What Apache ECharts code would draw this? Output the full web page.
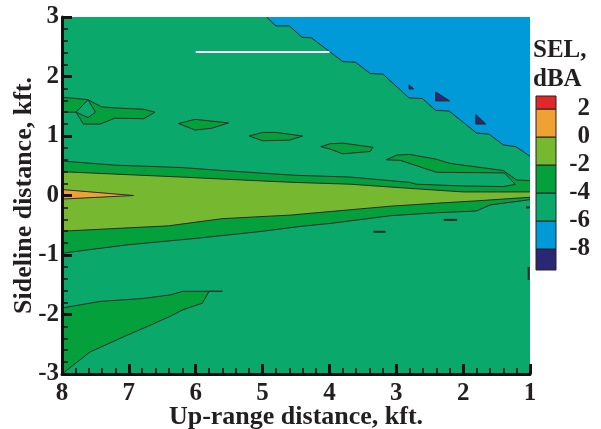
<!DOCTYPE html>
<html><head><meta charset="utf-8">
<script src="https://cdn.jsdelivr.net/npm/echarts@6/dist/echarts.min.js"></script>
<style>html,body{margin:0;padding:0;background:#fff}#c{width:601px;height:429px}</style>
</head><body><div id="c"></div>
<script>
// Axes ranges (kft)
const xRange = [1, 8];      // up-range distance (drawn reversed)
const yRange = [-3, 3];     // sideline distance
// Colour levels (SEL, dBA)
const levelBounds = [-8, -6, -4, -2, 0, 2];
const levelColors = ['#2a2875', '#009ad9', '#0aa86b', '#03a03c', '#76b830', '#f0a133', '#e0282a'];
const colorbarEnds = [-9.5, 2.93];

// Contour regions: [up-range kft, sideline kft] vertices, with band value
const fieldPts = [[8, -3], [1, -3], [1, 3], [8, 3]];                        // -6..-4
const blueZone = [[4.94, 3], [4.8, 2.85], [4.6, 2.85], [4.41, 2.66], [4.27, 2.65], [3.8, 2.25], [3.61, 2.24],
  [3.39, 2.05], [3.2, 2.04], [2.81, 1.64], [2.61, 1.63], [2.41, 1.43], [2.21, 1.42], [1.8, 1.05], [1.61, 1.03],
  [1.4, 0.85], [1.21, 0.82], [1.0, 0.66], [1, 3]];                          // -8..-6
const navySpot1 = [[2.81, 1.86], [2.81, 1.79], [2.74, 1.79]];             // < -8
const navySpot2 = [[2.41, 1.74], [2.41, 1.59], [2.20, 1.59]];
const navySpot3 = [[1.81, 1.36], [1.81, 1.20], [1.66, 1.20]];
const centerBand = [[8, 0.58], [7.21, 0.51], [6.21, 0.47], [5.61, 0.42], [4.52, 0.34], [3.69, 0.31], [2.80, 0.22],
  [2.70, 0.19], [2.00, 0.16], [1.40, 0.15], [1.22, 0.185],
  [1.37, 0.37], [1.40, 0.38], [2.40, 0.39], [2.94, 0.59], [3.15, 0.60],
  [2.99, 0.68], [2.80, 0.69], [2.40, 0.61], [2.20, 0.54], [1.80, 0.48], [1.40, 0.42], [1.20, 0.26], [1.00, 0.25],
  [1.00, -0.07], [1.60, -0.16], [1.80, -0.26], [2.40, -0.29], [3.09, -0.34], [3.99, -0.47], [4.44, -0.52],
  [4.99, -0.60], [5.99, -0.72], [7.03, -0.83], [8, -0.97]];                 // -4..-2
const coreBand = [[8, 0.40], [7.41, 0.37], [6.21, 0.31], [5.11, 0.25], [4.52, 0.22], [3.69, 0.19], [2.80, 0.12],
  [2.00, 0.06], [1.00, 0.06], [1.00, -0.03], [1.80, -0.09], [2.40, -0.13], [3.09, -0.18], [3.99, -0.27],
  [4.59, -0.33], [5.11, -0.36], [5.61, -0.39], [6.41, -0.51], [8, -0.60]];  // -2..0
const nozzleWedge = [[8, 0.10], [6.93, 0.0], [8, -0.06]];                    // 0..2
const patchA = [[8, 1.65], [7.78, 1.63], [7.61, 1.61], [7.41, 1.49], [7.18, 1.47], [6.78, 1.45], [6.61, 1.40],
  [6.78, 1.29], [7.21, 1.30], [7.43, 1.20], [7.68, 1.20], [7.79, 1.40], [8, 1.40]];   // -4..-2
const patchAHole = [[7.61, 1.61], [7.79, 1.40], [7.61, 1.31], [7.50, 1.40]];         // -6..-4
const patchB = [[6.26, 1.21], [6.01, 1.28], [5.51, 1.22], [5.76, 1.13], [6.01, 1.10]];
const patchC = [[5.20, 1.0], [5.0, 1.06], [4.8, 1.06], [4.4, 1.0], [4.6, 0.93], [5.0, 0.92]];
const patchD = [[4.13, 0.82], [3.99, 0.87], [3.80, 0.88], [3.35, 0.81], [3.39, 0.74], [3.80, 0.70], [3.99, 0.78]];
const patchE = [[8, -1.89], [7.43, -1.78], [6.78, -1.73], [6.38, -1.67], [6.19, -1.61], [5.60, -1.61], [5.80, -1.61],
  [5.90, -1.81], [6.19, -1.92], [6.38, -2.03], [6.78, -2.23], [7.03, -2.35], [7.58, -2.63], [8, -3]];
const regionLevels = [-5, -7, -9, -9, -9, -3, -1, 1, -3, -5, -3, -3, -3, -3];
// Stray short contour segments and the white streak
const dashes = [[[2.29, -0.41], [2.09, -0.41]], [[3.34, -0.61], [3.16, -0.61]], [[1.02, -1.20], [1.02, -1.42]], [[1.06, -0.2], [1.0, -0.2]]];
const whiteStreak = [[6.0, 2.41], [4.0, 2.41]];

const regionShapes = [fieldPts, blueZone, navySpot1, navySpot2, navySpot3, centerBand, coreBand, nozzleWedge,
  patchA, patchAHole, patchB, patchC, patchD, patchE];

const font = 'Liberation Serif';
const ink = '#231f20';
const lineInk = '#2a2a2a';

const pieces = [{ lt: levelBounds[0], color: levelColors[0] }];
for (let i = 0; i < levelBounds.length - 1; i++) pieces.push({ gte: levelBounds[i], lt: levelBounds[i + 1], color: levelColors[i + 1] });
pieces.push({ gte: levelBounds[levelBounds.length - 1], color: levelColors[levelColors.length - 1] });

const cbEdges = [colorbarEnds[0]].concat(levelBounds, [colorbarEnds[1]]);
const cbData = [];
for (let i = 0; i < cbEdges.length - 1; i++) cbData.push([0, cbEdges[i], cbEdges[i + 1], (cbEdges[i] + cbEdges[i + 1]) / 2]);

function onBoundary(a, b) {
  return (a[0] === b[0] && (a[0] === xRange[0] || a[0] === xRange[1])) ||
         (a[1] === b[1] && (a[1] === yRange[0] || a[1] === yRange[1]));
}

const chart = echarts.init(document.getElementById('c'), null, { renderer: 'canvas' });
chart.setOption({
  animation: false,
  backgroundColor: '#fff',
  textStyle: { fontFamily: font, fontWeight: 'bold', color: ink },
  title: {
    text: 'SEL,\ndBA', left: 533, top: 36, padding: 0,
    textStyle: { fontFamily: font, fontWeight: 'bold', fontSize: 25, lineHeight: 29, color: ink }
  },
  grid: [
    { left: 62, right: 71, top: 17, bottom: 55, outerBoundsMode: 'none' },
    { left: 536, width: 20, top: 96, height: 174, outerBoundsMode: 'none' }
  ],
  visualMap: {
    type: 'piecewise', show: false, seriesIndex: [0, 1], dimension: 2, pieces: pieces
  },
  xAxis: [{
    type: 'value', gridIndex: 0, min: xRange[0], max: xRange[1], interval: 1, inverse: true, z: 10,
    name: 'Up-range distance, kft.', nameLocation: 'middle', nameGap: 30, nameMoveOverlap: false,
    nameTextStyle: { fontFamily: font, fontWeight: 'bold', fontSize: 26, color: ink },
    axisLine: { show: true, onZero: false, lineStyle: { color: '#111', width: 3 } },
    axisTick: { show: true, inside: true, length: 10, lineStyle: { color: '#111', width: 3 } },
    minorTick: { show: true, splitNumber: 5, length: 6, lineStyle: { color: '#111', width: 1.5 } },
    axisLabel: { fontFamily: font, fontWeight: 'bold', fontSize: 25, color: ink, margin: 7 },
    splitLine: { show: false }
  }, {
    type: 'value', gridIndex: 1, min: 0, max: 1, show: false
  }],
  yAxis: [{
    type: 'value', gridIndex: 0, min: yRange[0], max: yRange[1], interval: 1, z: 10,
    name: 'Sideline distance, kft.', nameLocation: 'middle', nameGap: 25, nameRotate: 90, nameMoveOverlap: false,
    nameTextStyle: { fontFamily: font, fontWeight: 'bold', fontSize: 26, color: ink },
    axisLine: { show: true, onZero: false, lineStyle: { color: '#111', width: 3 } },
    axisTick: { show: true, inside: true, length: 10, lineStyle: { color: '#111', width: 3 } },
    minorTick: { show: true, splitNumber: 5, length: 6, lineStyle: { color: '#111', width: 1.5 } },
    axisLabel: { fontFamily: font, fontWeight: 'bold', fontSize: 25, color: ink, margin: 3 },
    splitLine: { show: false }
  }, {
    type: 'value', gridIndex: 1, min: colorbarEnds[0], max: colorbarEnds[1], position: 'right',
    axisLine: { show: false }, axisTick: { show: false }, splitLine: { show: false },
    axisLabel: { customValues: levelBounds, fontFamily: font, fontWeight: 'bold', fontSize: 25, color: ink, align: 'right', margin: 34 }
  }],
  series: [{
    type: 'custom', xAxisIndex: 0, yAxisIndex: 0, clip: true, silent: true,
    data: regionShapes.map((pts, i) => [pts[0][0], pts[0][1], regionLevels[i], i]),
    encode: { x: 0, y: 1 },
    renderItem: function (params, api) {
      const pts = regionShapes[api.value(3)];
      const px = pts.map(p => api.coord(p));
      const children = [{ type: 'polygon', shape: { points: px }, style: { fill: api.visual('color'), stroke: null } }];
      const n = pts.length;
      let run = [];
      for (let i = 0; i < n; i++) {
        const a = pts[i], b = pts[(i + 1) % n];
        if (onBoundary(a, b)) {
          if (run.length) children.push({ type: 'polyline', shape: { points: run }, style: { stroke: lineInk, lineWidth: 1, fill: null } });
          run = [];
        } else {
          if (!run.length) run.push(px[i]);
          run.push(px[(i + 1) % n]);
        }
      }
      if (run.length) children.push({ type: 'polyline', shape: { points: run }, style: { stroke: lineInk, lineWidth: 1, fill: null } });
      return { type: 'group', children: children };
    }
  }, {
    type: 'custom', xAxisIndex: 1, yAxisIndex: 1, silent: true,
    data: cbData.map(d => [d[0], d[1], d[3], d[2]]),
    encode: { x: 0, y: 1 },
    renderItem: function (params, api) {
      const p0 = api.coord([0, api.value(3)]);
      const p1 = api.coord([1, api.value(1)]);
      return { type: 'rect', shape: { x: p0[0], y: p0[1], width: p1[0] - p0[0], height: p1[1] - p0[1] },
        style: { fill: api.visual('color'), stroke: '#222', lineWidth: 1 } };
    }
  }, {
    type: 'custom', xAxisIndex: 0, yAxisIndex: 0, silent: true,
    data: dashes.map((d, i) => [d[0][0], d[0][1], i]),
    encode: { x: 0, y: 1 },
    renderItem: function (params, api) {
      const seg = dashes[api.value(2)];
      return { type: 'polyline', shape: { points: seg.map(p => api.coord(p)) }, style: { stroke: lineInk, lineWidth: 2, fill: null } };
    }
  }, {
    type: 'line', xAxisIndex: 0, yAxisIndex: 0, data: whiteStreak, symbol: 'none', silent: true,
    lineStyle: { color: '#ffffff', width: 2 }
  }]
});
</script></body></html>
